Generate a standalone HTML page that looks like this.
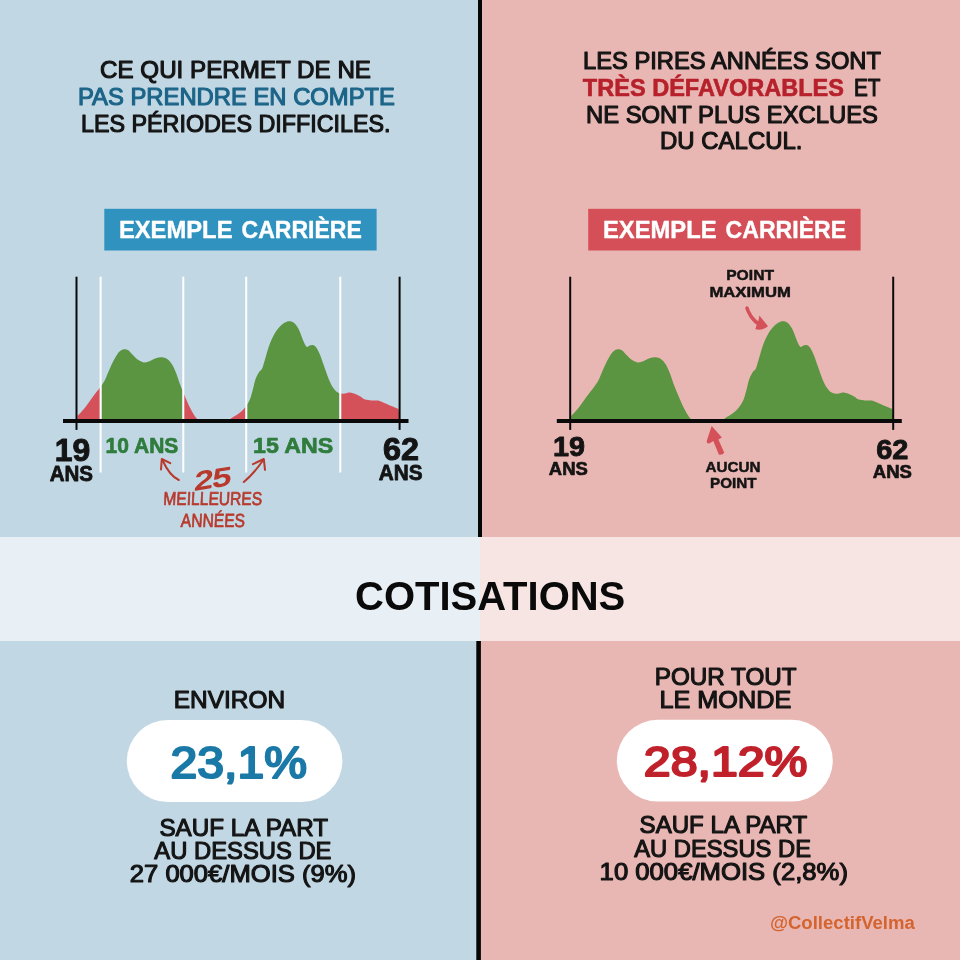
<!DOCTYPE html>
<html lang="fr">
<head>
<meta charset="utf-8">
<title>Cotisations</title>
<style>
html,body{margin:0;padding:0;background:#c1d7e4;}
body{width:960px;height:960px;overflow:hidden;}
svg{display:block;font-family:"Liberation Sans", sans-serif;}
text{white-space:pre;}
</style>
</head>
<body>
<svg width="960" height="960" viewBox="0 0 960 960">
<rect x="0" y="0" width="480" height="960" fill="#c1d7e4"/>
<rect x="480" y="0" width="480" height="960" fill="#e9b7b3"/>
<rect x="478" y="0" width="4" height="537" fill="#050505"/>
<rect x="476.3" y="641" width="4.6" height="319" fill="#050505"/>
<rect x="0" y="537" width="480" height="104" fill="#e9f0f5"/>
<rect x="480" y="537" width="480" height="104" fill="#f7e5e4"/>
<text x="100.0" y="78.1" font-size="23.4" font-weight="normal" fill="#141414" textLength="271.0" lengthAdjust="spacingAndGlyphs" stroke="#141414" stroke-width="1.1" stroke-linejoin="round" >CE QUI PERMET DE NE</text>
<text x="78.0" y="105.0" font-size="23.4" font-weight="normal" fill="#1c6588" textLength="317.0" lengthAdjust="spacingAndGlyphs" stroke="#1c6588" stroke-width="1.1" stroke-linejoin="round" >PAS PRENDRE EN COMPTE</text>
<text x="81.0" y="131.9" font-size="23.4" font-weight="normal" fill="#141414" textLength="309.5" lengthAdjust="spacingAndGlyphs" stroke="#141414" stroke-width="1.1" stroke-linejoin="round" >LES PÉRIODES DIFFICILES.</text>
<text x="583.0" y="69.0" font-size="23.4" font-weight="normal" fill="#141414" textLength="298.0" lengthAdjust="spacingAndGlyphs" stroke="#141414" stroke-width="1.1" stroke-linejoin="round" >LES PIRES ANNÉES SONT</text>
<text x="582.8" y="95.7" font-size="23.6" font-weight="bold" fill="#b7212b" textLength="261.2" lengthAdjust="spacingAndGlyphs" stroke="#b7212b" stroke-width="0.6" stroke-linejoin="round" >TRÈS DÉFAVORABLES</text>
<text x="854.0" y="95.7" font-size="23.4" font-weight="normal" fill="#141414" textLength="26.5" lengthAdjust="spacingAndGlyphs" stroke="#141414" stroke-width="1.1" stroke-linejoin="round" >ET</text>
<text x="586.0" y="122.7" font-size="23.4" font-weight="normal" fill="#141414" textLength="292.0" lengthAdjust="spacingAndGlyphs" stroke="#141414" stroke-width="1.1" stroke-linejoin="round" >NE SONT PLUS EXCLUES</text>
<text x="660.0" y="149.4" font-size="23.4" font-weight="normal" fill="#141414" textLength="142.5" lengthAdjust="spacingAndGlyphs" stroke="#141414" stroke-width="1.1" stroke-linejoin="round" >DU CALCUL.</text>
<rect x="104.3" y="208.8" width="272.3" height="41.7" fill="#2f92bf"/>
<text x="118.9" y="237.5" font-size="24.4" font-weight="bold" fill="#fff" textLength="113.6" lengthAdjust="spacingAndGlyphs" stroke="#fff" stroke-width="0.4" stroke-linejoin="round" >EXEMPLE</text>
<text x="241.5" y="237.5" font-size="24.4" font-weight="bold" fill="#fff" textLength="120.3" lengthAdjust="spacingAndGlyphs" stroke="#fff" stroke-width="0.4" stroke-linejoin="round" >CARRIÈRE</text>
<rect x="588.2" y="208.8" width="272.4" height="41.7" fill="#d44f58"/>
<text x="603.0" y="237.5" font-size="24.4" font-weight="bold" fill="#fff" textLength="113.6" lengthAdjust="spacingAndGlyphs" stroke="#fff" stroke-width="0.4" stroke-linejoin="round" >EXEMPLE</text>
<text x="725.6" y="237.5" font-size="24.4" font-weight="bold" fill="#fff" textLength="120.6" lengthAdjust="spacingAndGlyphs" stroke="#fff" stroke-width="0.4" stroke-linejoin="round" >CARRIÈRE</text>
<defs><path id="career" d="M77.5,420 L77.5,416 C79.0,414.4 83.3,409.8 85.9,406.5 C88.5,403.2 90.8,399.6 93.2,396.3 C95.6,393.0 98.6,389.5 100.5,386.8 C102.4,384.1 103.3,383.0 104.8,380.2 C106.2,377.4 107.7,373.3 109.2,370.0 C110.7,366.7 112.1,363.3 113.6,360.5 C115.1,357.7 116.7,354.9 118.0,353.2 C119.3,351.4 120.5,350.6 121.6,350.0 C122.7,349.4 123.4,349.2 124.5,349.3 C125.6,349.4 126.8,349.4 128.2,350.3 C129.5,351.2 131.1,353.2 132.6,354.7 C134.1,356.1 135.4,357.9 136.9,359.0 C138.4,360.1 140.0,360.9 141.3,361.5 C142.6,362.1 143.4,362.5 144.9,362.4 C146.4,362.3 148.2,361.7 150.1,361.0 C151.9,360.3 154.1,358.9 155.9,358.3 C157.7,357.7 159.4,357.4 161.0,357.3 C162.6,357.2 164.1,357.4 165.4,357.9 C166.7,358.4 167.8,359.2 169.0,360.5 C170.2,361.8 171.5,363.4 172.7,365.6 C173.9,367.8 175.1,370.6 176.3,373.6 C177.5,376.7 178.6,380.4 179.9,383.9 C181.2,387.4 182.7,391.0 184.3,394.8 C185.9,398.6 187.8,403.2 189.4,406.5 C191.0,409.8 192.4,412.2 193.8,414.5 C195.2,416.8 197.1,419.1 197.8,420.0 Z M229.5,420.0 C229.8,419.7 229.3,419.5 231.0,418.4 C232.7,417.2 237.1,414.9 239.4,413.1 C241.7,411.3 243.3,409.7 245.1,407.5 C246.8,405.3 248.4,402.8 249.7,400.0 C250.9,397.2 251.6,394.0 252.6,390.6 C253.5,387.2 254.3,382.5 255.4,379.4 C256.5,376.3 258.0,373.6 259.1,371.9 C260.2,370.2 261.0,371.0 261.9,369.1 C262.8,367.2 263.6,364.2 264.7,360.6 C265.8,357.0 267.1,351.6 268.5,347.5 C269.9,343.4 271.5,339.5 273.2,336.2 C274.9,333.0 276.9,330.1 278.8,327.8 C280.7,325.6 282.7,323.8 284.4,322.8 C286.1,321.7 287.5,321.2 289.1,321.2 C290.7,321.2 292.2,321.5 293.8,322.8 C295.4,324.0 297.1,326.2 298.5,328.8 C299.9,331.3 301.1,335.4 302.2,338.1 C303.3,340.8 304.2,343.2 305.1,344.7 C305.9,346.2 306.5,346.8 307.3,346.9 C308.1,347.0 308.8,345.9 309.7,345.6 C310.6,345.3 311.8,344.8 312.9,345.1 C314.0,345.4 315.1,345.9 316.3,347.5 C317.5,349.1 318.8,352.0 320.1,355.0 C321.3,358.0 322.4,361.4 323.8,365.3 C325.2,369.2 326.9,374.6 328.5,378.4 C330.1,382.1 331.6,385.4 333.2,387.8 C334.8,390.2 336.2,391.5 337.9,392.5 C339.6,393.5 341.6,393.8 343.5,393.8 C345.4,393.8 347.2,392.5 349.1,392.5 C351.0,392.5 352.8,393.1 354.7,393.8 C356.6,394.5 358.7,395.6 360.4,396.6 C362.1,397.6 363.2,399.0 365.1,399.6 C366.9,400.2 369.4,400.2 371.6,400.4 C373.8,400.6 376.2,400.2 378.2,400.6 C380.2,401.0 381.6,401.9 383.8,402.8 C386.0,403.7 388.8,405.0 391.3,406.0 C393.8,407.0 397.4,408.5 398.6,409.0 L399.6,420 Z"/><clipPath id="gclip"><rect x="101.6" y="300" width="80.8" height="130"/><rect x="247.2" y="300" width="92.3" height="130"/></clipPath></defs>
<clipPath id="rclip"><rect x="70" y="300" width="31.3" height="130"/><rect x="182.6" y="300" width="64.3" height="130"/><rect x="339.7" y="300" width="70" height="130"/></clipPath>
<use href="#career" fill="#d5515a" clip-path="url(#rclip)"/>
<use href="#career" fill="#5b9542" clip-path="url(#gclip)"/>
<rect x="99.6" y="276.7" width="2" height="195.8" fill="#fff"/>
<rect x="182.3" y="276.7" width="2" height="195.8" fill="#fff"/>
<rect x="245.2" y="276.7" width="2" height="195.8" fill="#fff"/>
<rect x="339.3" y="276.7" width="2" height="195.8" fill="#fff"/>
<rect x="75.5" y="276.7" width="2" height="153.2" fill="#0a0a0a"/>
<rect x="398.6" y="276.7" width="2" height="153.2" fill="#0a0a0a"/>
<rect x="63" y="419" width="345.5" height="4" fill="#0a0a0a"/>
<text x="54.8" y="461.2" font-size="31.5" font-weight="bold" fill="#141414" textLength="35.5" lengthAdjust="spacingAndGlyphs" stroke="#141414" stroke-width="1.0" stroke-linejoin="round" >19</text>
<text x="49.7" y="481.2" font-size="22.5" font-weight="bold" fill="#141414" textLength="43.4" lengthAdjust="spacingAndGlyphs" stroke="#141414" stroke-width="0.8" stroke-linejoin="round" >ANS</text>
<text x="383.0" y="459.5" font-size="31.5" font-weight="bold" fill="#141414" textLength="36.0" lengthAdjust="spacingAndGlyphs" stroke="#141414" stroke-width="1.0" stroke-linejoin="round" >62</text>
<text x="378.7" y="479.5" font-size="22.5" font-weight="bold" fill="#141414" textLength="43.8" lengthAdjust="spacingAndGlyphs" stroke="#141414" stroke-width="0.8" stroke-linejoin="round" >ANS</text>
<text x="105.6" y="452.6" font-size="22" font-weight="bold" fill="#2f7c3d" textLength="72.7" lengthAdjust="spacingAndGlyphs" stroke="#2f7c3d" stroke-width="0.7" stroke-linejoin="round" >10 ANS</text>
<text x="253.0" y="452.8" font-size="22" font-weight="bold" fill="#2f7c3d" textLength="80.3" lengthAdjust="spacingAndGlyphs" stroke="#2f7c3d" stroke-width="0.7" stroke-linejoin="round" >15 ANS</text>
<g transform="rotate(-9 213 478)"><g transform="translate(213 478) skewX(-14) translate(-213 -478)"><text x="194.5" y="487.2" font-size="25" font-weight="normal" fill="#b8392c" textLength="37.0" lengthAdjust="spacingAndGlyphs" stroke="#b8392c" stroke-width="1.3" stroke-linejoin="round" >25</text></g></g>
<g transform="translate(212 510) skewX(-3) translate(-212 -510)">
<text x="162.8" y="505.0" font-size="18.6" font-weight="normal" fill="#b8392c" textLength="98.8" lengthAdjust="spacingAndGlyphs" stroke="#b8392c" stroke-width="0.7" stroke-linejoin="round" >MEILLEURES</text>
<text x="181.5" y="527.3" font-size="19" font-weight="normal" fill="#b8392c" textLength="64.2" lengthAdjust="spacingAndGlyphs" stroke="#b8392c" stroke-width="0.7" stroke-linejoin="round" >ANNÉES</text>
</g>
<g fill="none" stroke="#b8392c" stroke-width="2" stroke-linecap="round" stroke-linejoin="round">
<path d="M178.8,480 C173,477.5 167.5,471 162.6,460.5"/><path d="M161,469.5 L161.8,459 L170.3,463.2"/>
<path d="M243.8,482 C250,477 257,469 263.3,460"/><path d="M253,464.2 L263.8,459 L265,469.8"/>
</g>
<use href="#career" fill="#5b9542" transform="translate(493.7 0)"/>
<rect x="569.2" y="276.7" width="2" height="153.2" fill="#0a0a0a"/>
<rect x="892.2" y="276.7" width="2" height="153.2" fill="#0a0a0a"/>
<rect x="556.8" y="419" width="345" height="4" fill="#0a0a0a"/>
<text x="553.0" y="456.2" font-size="28.3" font-weight="bold" fill="#141414" textLength="32.0" lengthAdjust="spacingAndGlyphs" stroke="#141414" stroke-width="0.9" stroke-linejoin="round" >19</text>
<text x="548.8" y="474.8" font-size="18.8" font-weight="bold" fill="#141414" textLength="39.0" lengthAdjust="spacingAndGlyphs" stroke="#141414" stroke-width="0.7" stroke-linejoin="round" >ANS</text>
<text x="876.2" y="459.4" font-size="28.3" font-weight="bold" fill="#141414" textLength="32.2" lengthAdjust="spacingAndGlyphs" stroke="#141414" stroke-width="0.9" stroke-linejoin="round" >62</text>
<text x="872.8" y="477.5" font-size="18.8" font-weight="bold" fill="#141414" textLength="39.1" lengthAdjust="spacingAndGlyphs" stroke="#141414" stroke-width="0.7" stroke-linejoin="round" >ANS</text>
<text x="726.2" y="279.5" font-size="15.5" font-weight="bold" fill="#141414" textLength="47.8" lengthAdjust="spacingAndGlyphs" stroke="#141414" stroke-width="0.5" stroke-linejoin="round" >POINT</text>
<text x="709.4" y="296.9" font-size="15.5" font-weight="bold" fill="#141414" textLength="81.6" lengthAdjust="spacingAndGlyphs" stroke="#141414" stroke-width="0.5" stroke-linejoin="round" >MAXIMUM</text>
<text x="705.6" y="471.6" font-size="15.5" font-weight="bold" fill="#141414" textLength="55.0" lengthAdjust="spacingAndGlyphs" stroke="#141414" stroke-width="0.5" stroke-linejoin="round" >AUCUN</text>
<text x="710.0" y="487.8" font-size="15.5" font-weight="bold" fill="#141414" textLength="46.5" lengthAdjust="spacingAndGlyphs" stroke="#141414" stroke-width="0.5" stroke-linejoin="round" >POINT</text>
<path d="M746.6,305.9 L748.5,306.9 C750,312 754,318 758.3,321.3 L759.4,315.4 L768,326.3 C764,329.6 759,330.4 755.3,329.1 L756.7,324.8 C752,321.5 747.5,315.5 745.1,308 Z" fill="#d5515a"/>
<path d="M711.7,426 L721.9,437.6 L718.4,439.5 L724.3,452.8 C723,454.6 720.5,455 718.8,454.4 L713.3,441 L709.3,443.4 C707.2,443.6 706.4,442.4 706.9,440.4 L708.3,436 Z" fill="#d5515a"/>
<text x="355.0" y="610.0" font-size="41" font-weight="bold" fill="#0a0a0a" textLength="270.3" lengthAdjust="spacingAndGlyphs" >COTISATIONS</text>
<text x="173.8" y="707.7" font-size="23.4" font-weight="normal" fill="#141414" textLength="111.3" lengthAdjust="spacingAndGlyphs" stroke="#141414" stroke-width="1.1" stroke-linejoin="round" >ENVIRON</text>
<rect x="126.8" y="720" width="215.6" height="82" rx="41" fill="#fff"/>
<text x="170.6" y="777.7" font-size="43.6" font-weight="normal" fill="#1b79a7" textLength="136.3" lengthAdjust="spacingAndGlyphs" stroke="#1b79a7" stroke-width="2.2" stroke-linejoin="round" >23,1%</text>
<text x="159.4" y="835.5" font-size="23.4" font-weight="normal" fill="#141414" textLength="168.6" lengthAdjust="spacingAndGlyphs" stroke="#141414" stroke-width="1.1" stroke-linejoin="round" >SAUF LA PART</text>
<text x="154.3" y="858.9" font-size="23.4" font-weight="normal" fill="#141414" textLength="177.2" lengthAdjust="spacingAndGlyphs" stroke="#141414" stroke-width="1.1" stroke-linejoin="round" >AU DESSUS DE</text>
<text x="129.8" y="882.2" font-size="23.4" font-weight="normal" fill="#141414" textLength="226.2" lengthAdjust="spacingAndGlyphs" stroke="#141414" stroke-width="1.1" stroke-linejoin="round" >27 000€/MOIS (9%)</text>
<text x="654.8" y="685.0" font-size="23.4" font-weight="normal" fill="#141414" textLength="141.8" lengthAdjust="spacingAndGlyphs" stroke="#141414" stroke-width="1.1" stroke-linejoin="round" >POUR TOUT</text>
<text x="659.4" y="708.3" font-size="23.4" font-weight="normal" fill="#141414" textLength="131.9" lengthAdjust="spacingAndGlyphs" stroke="#141414" stroke-width="1.1" stroke-linejoin="round" >LE MONDE</text>
<rect x="616.8" y="719.8" width="216" height="81.8" rx="40.9" fill="#fff"/>
<text x="643.8" y="776.1" font-size="43.3" font-weight="normal" fill="#c0212b" textLength="163.7" lengthAdjust="spacingAndGlyphs" stroke="#c0212b" stroke-width="2.2" stroke-linejoin="round" >28,12%</text>
<text x="639.6" y="833.4" font-size="23.4" font-weight="normal" fill="#141414" textLength="167.7" lengthAdjust="spacingAndGlyphs" stroke="#141414" stroke-width="1.1" stroke-linejoin="round" >SAUF LA PART</text>
<text x="634.2" y="857.0" font-size="23.4" font-weight="normal" fill="#141414" textLength="176.8" lengthAdjust="spacingAndGlyphs" stroke="#141414" stroke-width="1.1" stroke-linejoin="round" >AU DESSUS DE</text>
<text x="599.6" y="880.3" font-size="23.4" font-weight="normal" fill="#141414" textLength="248.4" lengthAdjust="spacingAndGlyphs" stroke="#141414" stroke-width="1.1" stroke-linejoin="round" >10 000€/MOIS (2,8%)</text>
<text x="769.9" y="928.8" font-size="18" font-weight="bold" fill="#d3642f" textLength="144.9" lengthAdjust="spacingAndGlyphs" >@CollectifVelma</text>
</svg>
</body>
</html>
